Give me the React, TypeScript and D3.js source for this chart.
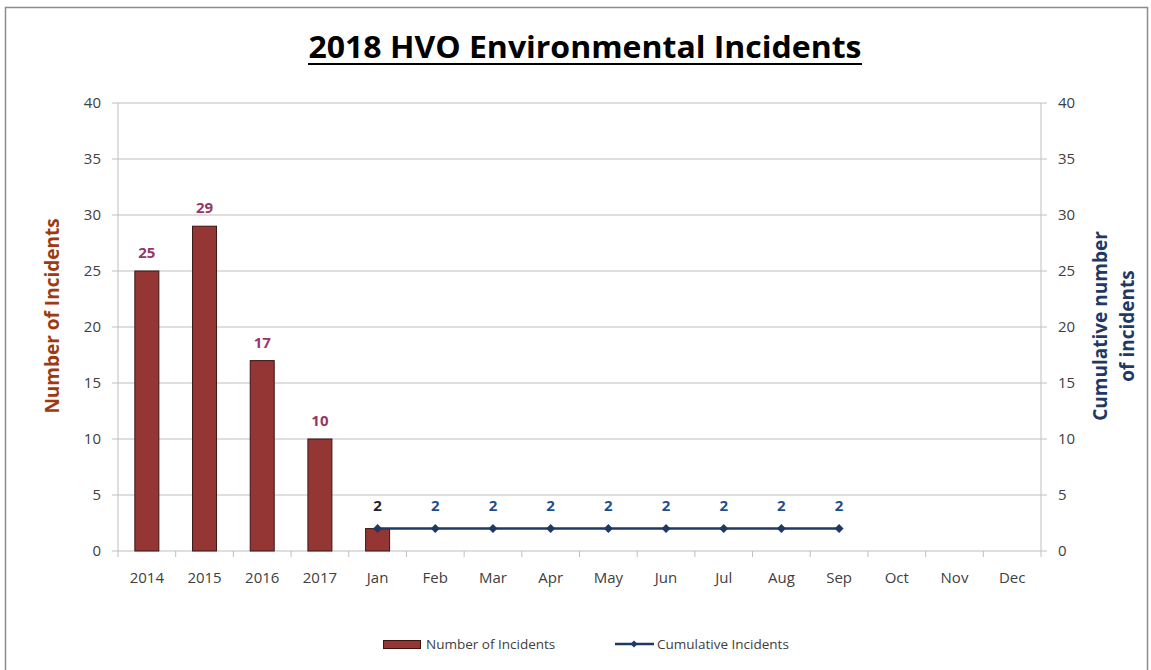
import React from "react";
import * as d3 from "d3";

const categories = ["2014","2015","2016","2017","Jan","Feb","Mar","Apr","May","Jun","Jul","Aug","Sep","Oct","Nov","Dec"];
const numberOfIncidents: (number | null)[] = [25,29,17,10,2,null,null,null,null,null,null,null,null,null,null,null];
const cumulativeIncidents: (number | null)[] = [null,null,null,null,2,2,2,2,2,2,2,2,2,null,null,null];
const yTicks = [0,5,10,15,20,25,30,35,40];

const W = 1151, H = 670;
const left = 118, right = 1041, top = 103, bottom = 551;
const FONT = "'Open Sans', 'Noto Sans', sans-serif";

export default function App() {
  const x = d3.scaleBand<string>().domain(categories).range([left, right]);
  const yL = d3.scaleLinear().domain([0, 40]).range([bottom, top]);
  const yR = d3.scaleLinear().domain([0, 40]).range([bottom, top]);
  const barW = 24;
  const cx = (c: string) => (x(c) as number) + x.bandwidth() / 2;

  const lineData = categories.map((c, i) => ({ c, v: cumulativeIncidents[i] })).filter(d => d.v != null) as { c: string; v: number }[];
  const line = d3.line<{ c: string; v: number }>().x(d => cx(d.c)).y(d => yR(d.v));
  const diamond = (px: number, py: number, r = 4.5) => `M${px},${py - r}L${px + r},${py}L${px},${py + r}L${px - r},${py}Z`;

  return (
    <svg width={W} height={H} style={{ position: "absolute", left: 0, top: 0, display: "block" }}>
      <rect x={0} y={0} width={W} height={H} fill="#fff" />
      <rect x={5.5} y={7.5} width={1142} height={680} fill="none" stroke="#8c8c8c" strokeWidth={1.5} />
      {/* title */}
      <text x={585} y={58} textAnchor="middle" fontFamily={FONT} fontWeight={700} fontSize={30} fill="#000" textLength={553} lengthAdjust="spacingAndGlyphs">2018 HVO Environmental Incidents</text>
      <line x1={308} x2={862} y1={64} y2={64} stroke="#000" strokeWidth={2} />

      {/* gridlines */}
      {yTicks.map(t => (
        <line key={"g" + t} x1={left} x2={right} y1={yL(t)} y2={yL(t)} stroke="#bfbfbf" strokeWidth={1} />
      ))}
      {/* left axis */}
      <line x1={left} x2={left} y1={top} y2={bottom} stroke="#bfbfbf" />
      {yTicks.map(t => (
        <g key={"l" + t}>
          <line x1={left - 6} x2={left} y1={yL(t)} y2={yL(t)} stroke="#bfbfbf" />
          <text x={left - 17} y={yL(t) + 5} textAnchor="end" fontFamily={FONT} fontSize={15} fill="#404040">{t}</text>
        </g>
      ))}
      {/* right axis */}
      <line x1={right} x2={right} y1={top} y2={bottom} stroke="#bfbfbf" />
      {yTicks.map(t => (
        <g key={"r" + t}>
          <line x1={right} x2={right + 6} y1={yR(t)} y2={yR(t)} stroke="#bfbfbf" />
          <text x={right + 17} y={yR(t) + 5} textAnchor="start" fontFamily={FONT} fontSize={15} fill="#404040">{t}</text>
        </g>
      ))}
      {/* x axis ticks */}
      {categories.map((c) => (
        <line key={"xt" + c} x1={(x(c) as number)} x2={(x(c) as number)} y1={bottom} y2={bottom + 6} stroke="#bfbfbf" />
      ))}
      <line x1={right} x2={right} y1={bottom} y2={bottom + 6} stroke="#bfbfbf" />
      {categories.map(c => (
        <text key={"xl" + c} x={cx(c)} y={bottom + 32} textAnchor="middle" fontFamily={FONT} fontSize={15} fill="#404040">{c}</text>
      ))}

      {/* bars */}
      {categories.map((c, i) => {
        const v = numberOfIncidents[i];
        if (v == null) return null;
        return (
          <g key={"b" + c}>
            <rect x={cx(c) - barW / 2} y={yL(v)} width={barW} height={bottom - yL(v)} fill="#943634" stroke="#3b1615" strokeWidth={1} />
            {i < 4 && (
              <text x={cx(c)} y={yL(v) - 13} textAnchor="middle" fontFamily={FONT} fontWeight={700} fontSize={15} fill="#953768">{v}</text>
            )}
          </g>
        );
      })}

      {/* line */}
      <path d={line(lineData) || ""} fill="none" stroke="#1f3864" strokeWidth={2.5} />
      {lineData.map((d, i) => (
        <g key={"p" + d.c}>
          <path d={diamond(cx(d.c), yR(d.v))} fill="#1f3864" />
          <text x={cx(d.c)} y={yR(d.v) - 18} textAnchor="middle" fontFamily={FONT} fontWeight={700} fontSize={15} fill={i === 0 ? "#1a2233" : "#1f4e8c"}>{d.v}</text>
        </g>
      ))}

      {/* axis titles */}
      <text transform="translate(59,316) rotate(-90)" textAnchor="middle" fontFamily={FONT} fontWeight={700} fontSize={19} fill="#9c3b12">Number of Incidents</text>
      <text transform="translate(1107,326) rotate(-90)" textAnchor="middle" fontFamily={FONT} fontWeight={700} fontSize={19} fill="#1f3864">Cumulative number</text>
      <text transform="translate(1134,326) rotate(-90)" textAnchor="middle" fontFamily={FONT} fontWeight={700} fontSize={19} fill="#1f3864">of incidents</text>

      {/* legend */}
      <rect x={383.5} y={640.5} width={37} height={8} fill="#943634" stroke="#3b1615" />
      <text x={426} y={649} fontFamily={FONT} fontSize={13.5} fill="#404040">Number of Incidents</text>
      <line x1={615} x2={654} y1={644} y2={644} stroke="#1f3864" strokeWidth={2.5} />
      <path d={diamond(634, 644, 3.5)} fill="#1f3864" />
      <text x={657} y={649} fontFamily={FONT} fontSize={13.5} fill="#404040">Cumulative Incidents</text>
    </svg>
  );
}
